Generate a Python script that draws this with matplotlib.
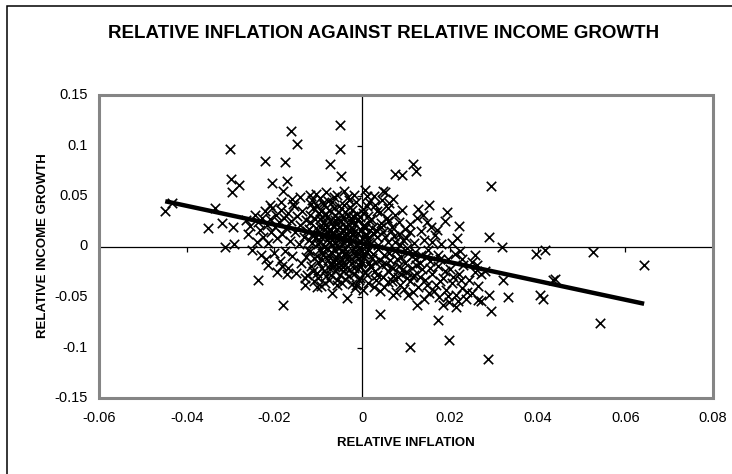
import matplotlib
matplotlib.use("Agg")
import matplotlib.pyplot as plt
import numpy as np
from matplotlib.patches import Rectangle

plt.rcParams['font.family'] = ['Liberation Sans', 'DejaVu Sans']

# --- data --------------------------------------------------------------
# scattered points well away from the main cloud
outliers = [
    (-0.0449, 0.0356), (-0.0434, 0.0435), (-0.0335, 0.038), (-0.0351, 0.0185),
    (-0.0320, 0.0234), (-0.0301, 0.0965), (-0.0300, 0.0669), (-0.0280, 0.0613),
    (-0.0297, 0.0537), (-0.0294, 0.019), (-0.0313, -0.0007), (-0.0292, 0.002),
    (-0.0237, -0.0329), (-0.0220, -0.0122), (-0.0180, -0.0583), (-0.0221, 0.0843),
    (-0.0176, 0.0833), (-0.0162, 0.1146), (-0.0149, 0.1015), (-0.0205, 0.0629),
    (-0.0172, 0.0645), (-0.0180, 0.0547), (-0.0157, 0.0422), (-0.0256, 0.0207),
    (-0.0050, 0.1203), (-0.0050, 0.0965), (-0.0073, 0.0817), (-0.0048, 0.0702),
    (0.0075, 0.0718), (0.0090, 0.0708), (0.0115, 0.0817), (0.0123, 0.0751),
    (0.0048, 0.0553), (0.0153, 0.0412), (0.0128, 0.0373), (0.0193, 0.0339),
    (0.0220, 0.0201), (0.0216, 0.0086), (0.0041, -0.0672), (0.0109, -0.0995),
    (0.0197, -0.0922), (0.0174, -0.0731), (0.0124, -0.0583), (0.0105, -0.0484),
    (0.0071, -0.0484), (-0.0035, -0.0507), (-0.0069, -0.0461), (-0.0104, -0.0402),
    (0.0258, -0.0080), (0.0223, -0.0040), (0.0265, -0.0530), (0.0294, 0.0603),
    (0.0289, 0.0099), (0.0318, -0.0007), (0.0397, -0.0072), (0.0417, -0.0030),
    (0.0526, -0.0056), (0.0643, -0.0181), (0.0440, -0.0319), (0.0435, -0.0336),
    (0.0406, -0.0484), (0.0412, -0.0517), (0.0543, -0.0758), (0.0332, -0.0501),
    (0.0322, -0.0329), (0.0290, -0.0484), (0.0293, -0.0639), (0.0270, -0.0540),
    (0.0286, -0.1110), (0.0227, -0.0120), (0.0250, -0.0150), (0.0262, -0.0180),
    (0.0280, -0.0240), (0.0270, -0.0270),
]

# medium-density cloud left of the origin
left_cloud = [
    (-0.0245, 0.031), (-0.0238, 0.024), (-0.0232, 0.016), (-0.0228, 0.028),
    (-0.0225, 0.009), (-0.0221, 0.035), (-0.0218, 0.021), (-0.0214, 0.003),
    (-0.0211, 0.027), (-0.0208, 0.014), (-0.0205, 0.038), (-0.0202, -0.006),
    (-0.0199, 0.019), (-0.0196, 0.031), (-0.0193, 0.008), (-0.0190, 0.024),
    (-0.0188, -0.014), (-0.0185, 0.036), (-0.0182, 0.012), (-0.0179, 0.028),
    (-0.0176, -0.004), (-0.0173, 0.018), (-0.0170, 0.033), (-0.0168, -0.021),
    (-0.0165, 0.005), (-0.0162, 0.025), (-0.0159, -0.009), (-0.0156, 0.040),
    (-0.0153, 0.014), (-0.0150, -0.026), (-0.0148, 0.030), (-0.0145, 0.002),
    (-0.0142, 0.021), (-0.0139, -0.016), (-0.0136, 0.035), (-0.0133, 0.009),
    (-0.0130, -0.031), (-0.0127, 0.026), (-0.0124, -0.003), (-0.0121, 0.017),
    (-0.0215, -0.018), (-0.0195, -0.025), (-0.0183, -0.019), (-0.0172, -0.027),
    (-0.0230, -0.008), (-0.0260, 0.012), (-0.0265, 0.026), (-0.0250, -0.003),
    (-0.0240, 0.004), (-0.0160, 0.047), (-0.0185, 0.044), (-0.0142, 0.049),
    (-0.0120, 0.051), (-0.0210, 0.041),
]

# dense core around the origin
core = [
    (-0.0105, 0.052), (-0.0082, 0.054), (-0.0064, 0.049), (-0.0041, 0.055),
    (-0.0018, 0.051), (0.0006, 0.056), (0.0028, 0.050), (0.0052, 0.054),
    (-0.0115, 0.046), (-0.0030, 0.046), (0.0015, 0.044), (0.0070, 0.047),
    (-0.0090, 0.043),
    (-0.0112, 0.038), (-0.0098, 0.033), (-0.0087, 0.041), (-0.0075, 0.036),
    (-0.0061, 0.031), (-0.0052, 0.040), (-0.0039, 0.034), (-0.0027, 0.039),
    (-0.0012, 0.032), (0.0001, 0.037), (0.0014, 0.030), (0.0029, 0.041),
    (0.0041, 0.034), (0.0058, 0.038), (0.0075, 0.031), (0.0090, 0.036),
    (-0.0068, 0.044), (0.0062, 0.043),
    (-0.0118, 0.024), (-0.0106, 0.018), (-0.0095, 0.027), (-0.0084, 0.021),
    (-0.0072, 0.016), (-0.0063, 0.026), (-0.0051, 0.019), (-0.0044, 0.029),
    (-0.0033, 0.022), (-0.0021, 0.017), (-0.0010, 0.027), (0.0003, 0.020),
    (0.0017, 0.025), (0.0031, 0.016), (0.0044, 0.023), (0.0056, 0.028),
    (0.0069, 0.019), (0.0083, 0.024), (0.0098, 0.017), (0.0110, 0.022),
    (-0.0079, 0.029), (-0.0026, 0.028), (0.0022, 0.018),
    (-0.0122, 0.006), (-0.0113, 0.012), (-0.0101, 0.002), (-0.0093, 0.009),
    (-0.0081, 0.014), (-0.0074, 0.004), (-0.0066, 0.011), (-0.0057, 0.001),
    (-0.0048, 0.008), (-0.0037, 0.013), (-0.0029, 0.003), (-0.0016, 0.010),
    (-0.0005, 0.005), (0.0008, 0.012), (0.0019, 0.002), (0.0033, 0.009),
    (0.0047, 0.014), (0.0060, 0.004), (0.0072, 0.010), (0.0087, 0.001),
    (0.0101, 0.008), (0.0118, 0.003), (-0.0087, 0.000), (-0.0044, 0.015),
    (0.0012, 0.007), (-0.0069, 0.007), (-0.0022, 0.012), (0.0025, 0.013),
    (-0.0120, -0.004), (-0.0109, -0.011), (-0.0097, -0.002), (-0.0089, -0.008),
    (-0.0078, -0.013), (-0.0070, -0.005), (-0.0059, -0.010), (-0.0053, -0.001),
    (-0.0042, -0.007), (-0.0034, -0.012), (-0.0024, -0.003), (-0.0013, -0.009),
    (-0.0002, -0.014), (0.0011, -0.005), (0.0023, -0.011), (0.0036, -0.002),
    (0.0049, -0.008), (0.0063, -0.013), (0.0076, -0.004), (0.0089, -0.010),
    (0.0105, -0.006), (0.0121, -0.012), (-0.0064, -0.015), (-0.0008, -0.001),
    (0.0030, -0.015), (-0.0100, -0.015), (-0.0047, -0.004),
    (-0.0116, -0.019), (-0.0103, -0.026), (-0.0092, -0.021), (-0.0083, -0.029),
    (-0.0071, -0.018), (-0.0062, -0.024), (-0.0050, -0.028), (-0.0039, -0.017),
    (-0.0030, -0.023), (-0.0018, -0.027), (-0.0006, -0.019), (0.0007, -0.025),
    (0.0020, -0.020), (0.0034, -0.028), (0.0046, -0.018), (0.0059, -0.024),
    (0.0071, -0.029), (0.0085, -0.019), (0.0099, -0.025), (0.0113, -0.021),
    (-0.0125, -0.028), (-0.0055, -0.020), (0.0015, -0.016),
    (-0.0110, -0.034), (-0.0094, -0.039), (-0.0076, -0.033), (-0.0058, -0.038),
    (-0.0040, -0.032), (-0.0022, -0.037), (-0.0004, -0.031), (0.0014, -0.036),
    (0.0032, -0.033), (0.0050, -0.040), (0.0068, -0.034), (0.0086, -0.038),
    (-0.0130, -0.038), (0.0002, -0.043), (-0.0017, -0.041), (0.0040, -0.044),
    (0.0078, -0.045),
    (-0.0096, 0.005), (-0.0091, -0.006), (-0.0085, 0.017), (-0.0080, -0.001),
    (-0.0076, 0.009), (-0.0071, -0.016), (-0.0067, 0.020), (-0.0061, 0.003),
    (-0.0056, -0.007), (-0.0052, 0.012), (-0.0046, -0.013), (-0.0043, 0.004),
    (-0.0038, -0.002), (-0.0035, 0.018), (-0.0031, -0.009), (-0.0027, 0.008),
    (-0.0023, -0.016), (-0.0019, 0.014), (-0.0014, -0.004), (-0.0011, 0.002),
    (-0.0007, -0.011), (-0.0003, 0.016), (0.0004, -0.007), (0.0009, 0.010),
    (0.0013, -0.002), (-0.0099, 0.014), (-0.0104, -0.009), (-0.0088, 0.024),
    (-0.0058, 0.017), (-0.0049, -0.018), (-0.0025, 0.024), (-0.0009, -0.022),
    (0.0005, 0.021), (-0.0073, -0.022), (-0.0040, 0.010), (-0.0062, -0.012),
]

# second pass over the solid black centre of the cloud
core_dense = [
    (-0.0119, 0.031), (-0.0114, 0.003), (-0.0111, -0.024), (-0.0108, 0.027),
    (-0.0102, 0.040), (-0.0100, -0.031), (-0.0097, 0.019), (-0.0094, 0.035),
    (-0.0092, -0.013), (-0.0090, 0.011), (-0.0086, -0.024), (-0.0083, 0.032),
    (-0.0081, 0.006), (-0.0078, 0.045), (-0.0075, -0.009), (-0.0073, 0.025),
    (-0.0070, -0.028), (-0.0068, 0.013), (-0.0065, 0.038), (-0.0063, -0.003),
    (-0.0060, 0.022), (-0.0057, -0.033), (-0.0055, 0.009), (-0.0053, 0.034),
    (-0.0050, -0.014), (-0.0048, 0.025), (-0.0045, 0.002), (-0.0043, -0.024),
    (-0.0041, 0.041), (-0.0038, 0.019), (-0.0036, -0.006), (-0.0033, 0.030),
    (-0.0031, -0.029), (-0.0028, 0.014), (-0.0026, -0.012), (-0.0024, 0.036),
    (-0.0021, 0.005), (-0.0019, -0.021), (-0.0017, 0.022), (-0.0015, 0.044),
    (-0.0012, -0.006), (-0.0010, 0.013), (-0.0008, -0.033), (-0.0005, 0.029),
    (-0.0003, -0.016), (0.0000, 0.008), (0.0002, 0.033), (0.0004, -0.010),
    (0.0007, 0.018), (0.0010, -0.028), (0.0012, 0.040), (0.0016, 0.004),
    (0.0018, -0.019), (0.0021, 0.027), (0.0024, -0.007), (0.0027, 0.012),
    (0.0030, -0.024), (0.0033, 0.035), (0.0037, 0.001), (0.0040, -0.013),
    (0.0043, 0.019), (0.0047, -0.030), (0.0051, 0.009), (0.0055, -0.017),
    (0.0058, 0.025), (0.0062, -0.006), (0.0066, 0.015), (0.0070, -0.021),
    (0.0074, 0.004), (0.0079, -0.012), (0.0083, 0.012), (0.0088, -0.027),
    (0.0093, 0.006), (0.0097, -0.016), (0.0103, -0.001), (0.0108, 0.014),
    (0.0113, -0.009), (0.0117, -0.030), (-0.0126, 0.015), (-0.0128, -0.010),
    (-0.0117, 0.042), (-0.0084, -0.036), (-0.0047, -0.036), (-0.0013, -0.038),
    (0.0026, -0.040), (-0.0032, 0.049), (0.0010, 0.050), (-0.0058, 0.051),
    (-0.0095, 0.048), (0.0045, 0.046), (-0.0069, 0.001), (-0.0034, 0.006),
    (-0.0056, 0.027), (-0.0016, 0.000), (-0.0080, 0.019), (-0.0044, -0.020),
    (-0.0021, 0.030), (-0.0091, 0.029), (-0.0107, 0.008), (-0.0065, -0.019),
    (0.0000, -0.004), (-0.0029, 0.016),
]

# points right of the core, near the axis
right_cloud = [
    (0.0125, 0.028), (0.0135, 0.015), (0.0142, 0.006), (0.0150, -0.003),
    (0.0158, 0.019), (0.0166, 0.011), (0.0172, -0.008), (0.0180, 0.002),
    (0.0188, 0.025), (0.0195, -0.012), (0.0131, -0.016), (0.0139, 0.031),
    (0.0146, -0.010), (0.0160, 0.004), (0.0205, 0.003), (0.0212, -0.007),
    (0.0148, 0.024), (0.0170, 0.016),
]

# lower right band
lower_right = [
    (0.0060, -0.035), (0.0082, -0.030), (0.0095, -0.042), (0.0108, -0.034),
    (0.0118, -0.028), (0.0127, -0.040), (0.0136, -0.022), (0.0144, -0.033),
    (0.0152, -0.046), (0.0160, -0.027), (0.0168, -0.038), (0.0176, -0.050),
    (0.0184, -0.031), (0.0192, -0.043), (0.0199, -0.055), (0.0206, -0.036),
    (0.0213, -0.048), (0.0221, -0.027), (0.0228, -0.041), (0.0236, -0.052),
    (0.0243, -0.033), (0.0250, -0.046), (0.0257, -0.025), (0.0264, -0.039),
    (0.0185, -0.058), (0.0172, -0.019), (0.0200, -0.022), (0.0140, -0.052),
    (0.0215, -0.060), (0.0230, -0.018),
    (0.0065, -0.020), (0.0090, -0.023), (0.0103, -0.031), (0.0115, -0.045),
    (0.0122, -0.018), (0.0133, -0.030), (0.0148, -0.038), (0.0155, -0.021),
    (0.0163, -0.044), (0.0178, -0.034), (0.0190, -0.024), (0.0195, -0.049),
    (0.0208, -0.030), (0.0218, -0.054), (0.0225, -0.033), (0.0240, -0.045),
    (0.0178, -0.012), (0.0155, -0.014), (0.0120, -0.005), (0.0135, -0.008),
]

# fitted trend line end points
trend_x = [-0.0449, 0.0643]
trend_y = [0.0448, -0.0567]

x_ticks = [-0.06, -0.04, -0.02, 0, 0.02, 0.04, 0.06, 0.08]
x_labels = ['-0.06', '-0.04', '-0.02', '0', '0.02', '0.04', '0.06', '0.08']
y_ticks = [-0.15, -0.1, -0.05, 0, 0.05, 0.1, 0.15]
y_labels = ['-0.15', '-0.1', '-0.05', '0', '0.05', '0.1', '0.15']

title = 'RELATIVE INFLATION AGAINST RELATIVE INCOME GROWTH'
x_title = 'RELATIVE INFLATION'
y_title = 'RELATIVE INCOME GROWTH'

# --- drawing -------------------------------------------------------------
pts = np.array(outliers + left_cloud + core + core_dense + right_cloud
               + lower_right)

fig = plt.figure(figsize=(7.32, 4.74), dpi=100)
ax = fig.add_axes([99 / 732, 1 - 398 / 474, 614 / 732, 303 / 474])

ax.scatter(pts[:, 0], pts[:, 1], marker='x', s=46, linewidths=1.2,
           color='black', zorder=3)
ax.plot(trend_x, trend_y, color='black', linewidth=3.2,
        solid_capstyle='butt', zorder=4)

ax.set_xlim(x_ticks[0], x_ticks[-1])
ax.set_ylim(y_ticks[0], y_ticks[-1])

# axes cross at the origin, Excel style
for side in ['top', 'right']:
    ax.spines[side].set_visible(False)
for side in ['left', 'bottom']:
    ax.spines[side].set_position(('data', 0))
    ax.spines[side].set_linewidth(0.9)
    ax.spines[side].set_zorder(2)
ax.set_xticks(x_ticks)
ax.set_yticks(y_ticks)
ax.tick_params(direction='out', length=3.5, width=0.9,
               labelleft=False, labelbottom=False)

# grey plot-area frame
ax.add_patch(Rectangle((0, 0), 1, 1, transform=ax.transAxes, fill=False,
                       edgecolor='#858585', linewidth=2.2, clip_on=False,
                       zorder=5))

# tick labels sit on the frame, not on the zero axes
for v, lab in zip(y_ticks, y_labels):
    ax.annotate(lab, (0, v), xycoords=('axes fraction', 'data'),
                xytext=(-8, 0), textcoords='offset points',
                ha='right', va='center', fontsize=10.5)
for v, lab in zip(x_ticks, x_labels):
    ax.annotate(lab, (v, 0), xycoords=('data', 'axes fraction'),
                xytext=(0, -9), textcoords='offset points',
                ha='center', va='top', fontsize=10.5)

fig.text(384 / 732, 1 - 33 / 474, title, ha='center', va='center',
         fontsize=13.5, fontweight='bold')
fig.text(406 / 732, 1 - 443 / 474, x_title, ha='center', va='center',
         fontsize=9.5, fontweight='bold')
fig.text(43 / 732, 1 - 246 / 474, y_title, ha='center', va='center',
         rotation=90, fontsize=9.5, fontweight='bold')

# outer chart border (only top and left edges fall inside the image)
fig.patches.append(Rectangle((6.5 / 732, -0.5), 2, 1.5 - 5.5 / 474,
                             transform=fig.transFigure, fill=False,
                             edgecolor='black', linewidth=1.1))

fig.savefig('out.png', dpi=100)
